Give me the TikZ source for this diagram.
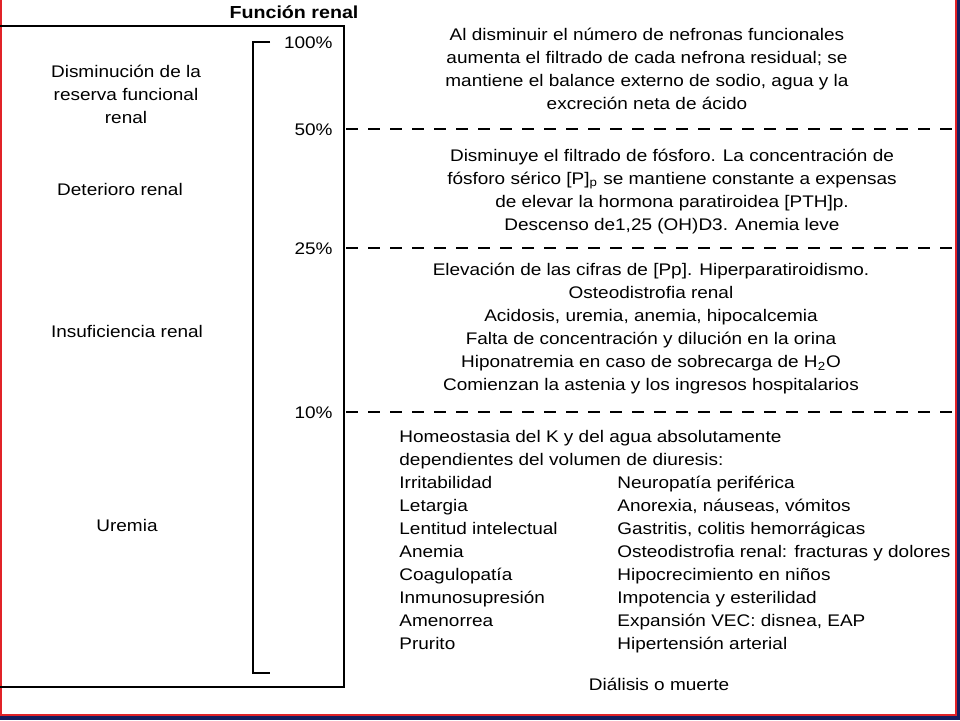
\documentclass[tikz,border=0pt]{standalone}
\usepackage{fontspec}
\setmainfont[FakeStretch=1.13]{Liberation Sans}
\definecolor{edgered}{RGB}{225,35,40}
\definecolor{edgenavy}{RGB}{20,30,95}

\begin{document}
\begin{tikzpicture}[x=0.5pt,y=-0.5pt,font=\fontsize{8.4}{11.5}\selectfont,
  txt/.style={inner sep=0pt, align=center},
  lft/.style={inner sep=0pt, anchor=base west},
  pct/.style={inner sep=0pt, anchor=base east},
  sep/.style={dash pattern=on 6pt off 5pt, line width=0.6pt}]
  \useasboundingbox (0,0) rectangle (960,720);
  \fill[white] (0,0) rectangle (960,720);
  \fill[edgenavy] (0,716) rectangle (960,720);
  \fill[edgenavy] (957,0) rectangle (960,720);
  \draw[edgered, line width=1pt] (1,0) -- (1,715) -- (955.5,715) -- (955.5,0);

  \node[txt, font=\fontsize{8.7}{11.5}\selectfont\bfseries] (title) at (294,12) {Función renal};
  \draw[line width=0.8pt] (0,26) -- (344,26) -- (344,687) -- (0,687);
  \draw[line width=0.9pt] (270,42) -- (253,42) -- (253,673) -- (270,673);

  \node[pct] (p100) at (333,48) {100\%};
  \node[pct] (p50) at (333,135) {50\%};
  \node[pct] (p25) at (333,254) {25\%};
  \node[pct] (p10) at (333,418) {10\%};
  \foreach \y in {129,248,412}
    \draw[sep] (346,\y) -- (954,\y);

  \node[txt] (reserva) at (126,94) {Disminución de la\\reserva funcional\\renal};
  \node[txt] (deterioro) at (120,189) {Deterioro renal};
  \node[txt] (insuf) at (127,331) {Insuficiencia renal};
  \node[txt] (uremia) at (127,525) {Uremia};

  \node[txt] (stage1) at (647,68.5) {Al disminuir el número de nefronas funcionales\\
    aumenta el filtrado de cada nefrona residual; se\\
    mantiene el balance externo de sodio, agua y la\\
    excreción neta de ácido};
  \node[txt] (stage2) at (672,191.5) {Disminuye el filtrado de fósforo. La concentración de\\
    fósforo sérico [P]\textsubscript{p} se mantiene constante a expensas\\
    de elevar la hormona paratiroidea [PTH]p.\\
    Descenso de1,25 (OH)D3. Anemia leve};
  \node[txt] (stage3) at (651,329) {Elevación de las cifras de [Pp]. Hiperparatiroidismo.\\
    Osteodistrofia renal\\
    Acidosis, uremia, anemia, hipocalcemia\\
    Falta de concentración y dilución en la orina\\
    Hiponatremia en caso de sobrecarga de H\textsubscript{2}O\\
    Comienzan la astenia y los ingresos hospitalarios};

  \node[lft] (homeo) at (399,442) {Homeostasia del K y del agua absolutamente};
  \node[lft] (diuresis) at (399,465) {dependientes del volumen de diuresis:};
  \foreach \a/\b [count=\i] in {Irritabilidad/Neuropatía periférica,
      Letargia/{Anorexia, náuseas, vómitos},
      Lentitud intelectual/{Gastritis, colitis hemorrágicas},
      Anemia/{Osteodistrofia renal: fracturas y dolores},
      Coagulopatía/Hipocrecimiento en niños,
      Inmunosupresión/Impotencia y esterilidad,
      Amenorrea/{Expansión VEC: disnea, EAP},
      Prurito/Hipertensión arterial} {
    \node[lft] (sign\i) at (399,{488+23.1*(\i-1)}) {\a};
    \node[lft] (sympt\i) at (617,{488+23.1*(\i-1)}) {\b};
  }
  \node[txt] (final) at (659,684) {Diálisis o muerte};
\end{tikzpicture}
\end{document}
